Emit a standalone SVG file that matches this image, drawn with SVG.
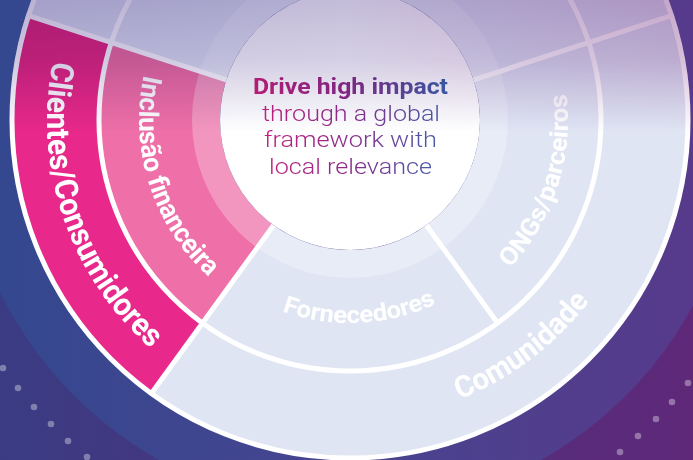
<svg xmlns="http://www.w3.org/2000/svg" width="693" height="460" viewBox="0 0 693 460">
<style>
.lbl{font-family:Roboto,"Open Sans","DejaVu Sans",sans-serif;font-weight:700;fill:#ffffff}
.ctr{font-family:Roboto,"Open Sans","DejaVu Sans",sans-serif;fill:url(#tg)}
.pink{fill:#e8288a}
.pinkl{fill:#ef6fa8}
.lav{fill:#e0e5f4}
.sep{fill:none;stroke:#ffffff;stroke-width:5}
.dot{fill:#ffffff;fill-opacity:0.35}
</style>
<defs>
<linearGradient id="bgOut" gradientUnits="userSpaceOnUse" x1="0" y1="0" x2="693" y2="0">
<stop offset="0" stop-color="#3a3c83"/><stop offset="1" stop-color="#5f2879"/>
</linearGradient>
<linearGradient id="bgBand" gradientUnits="userSpaceOnUse" x1="0" y1="0" x2="693" y2="0">
<stop offset="0" stop-color="#34488f"/><stop offset="0.5" stop-color="#47448f"/><stop offset="1" stop-color="#573a8b"/>
</linearGradient>
<linearGradient id="tg" gradientUnits="userSpaceOnUse" x1="255" y1="0" x2="448" y2="0">
<stop offset="0" stop-color="#c8207e"/><stop offset="0.5" stop-color="#8a2d8c"/><stop offset="1" stop-color="#3d63ae"/>
</linearGradient>
<linearGradient id="ovc" gradientUnits="userSpaceOnUse" x1="0" y1="0" x2="693" y2="0">
<stop offset="0" stop-color="#bab0d1"/><stop offset="0.5" stop-color="#c3bcd9"/><stop offset="1" stop-color="#c6a5ca"/>
</linearGradient>
<linearGradient id="ovm" gradientUnits="userSpaceOnUse" x1="0" y1="0" x2="0" y2="132">
<stop offset="0" stop-color="#ffffff"/><stop offset="0.46" stop-color="#b3b3b3"/><stop offset="1" stop-color="#000000"/>
</linearGradient>
<mask id="ovmask" maskUnits="userSpaceOnUse" x="0" y="0" width="693" height="460">
<rect x="0" y="0" width="693" height="140" fill="url(#ovm)"/>
</mask>
<path id="pCli" d="M52.77,61.15 A303,303 0 0 0 297.38,418.40"/>
<path id="pInc" d="M143.84,75.05 A211,211 0 0 0 277.83,318.27"/>
<path id="pOng" d="M509.95,268.12 A218,218 0 0 0 554.85,45.44"/>
<path id="pFor" d="M282.24,311.36 A203,203 0 0 0 505.51,250.49"/>
<path id="pCom" d="M459.46,399.32 A300,300 0 0 0 631.91,222.61"/>
</defs>

<rect x="0" y="0" width="693" height="460" fill="url(#bgOut)"/>
<circle cx="350" cy="120" r="390" fill="url(#bgBand)"/>

<g id="dots">
<circle class="dot" cx="3" cy="368" r="3.3"/><circle class="dot" cx="18" cy="388" r="3.3"/><circle class="dot" cx="34" cy="407" r="3.3"/><circle class="dot" cx="51" cy="424" r="3.3"/><circle class="dot" cx="68" cy="441" r="3.3"/><circle class="dot" cx="87" cy="457" r="3.3"/>
<circle class="dot" cx="688" cy="383" r="3.3"/><circle class="dot" cx="672" cy="402" r="3.3"/><circle class="dot" cx="656" cy="419" r="3.3"/><circle class="dot" cx="638" cy="436" r="3.3"/><circle class="dot" cx="620" cy="452" r="3.3"/>
</g>

<g id="top-outer"><path class="lav" d="M28.54,15.55 A338,338 0 0 1 671.46,15.55 L588.72,42.44 A251,251 0 0 0 111.28,42.44 Z"/></g>
<g id="top-inner"><path class="lav" d="M111.28,42.44 A251,251 0 0 1 588.72,42.44 L473.64,79.83 A130,130 0 0 0 226.36,79.83 Z"/></g>

<g id="clientes">
<path class="pink" d="M151.33,393.45 A338,338 0 0 1 28.54,15.55 L111.28,42.44 A251,251 0 0 0 202.46,323.06 Z"/>
<text class="lbl" font-size="32"><textPath href="#pCli" textLength="318" lengthAdjust="spacingAndGlyphs">Clientes/Consumidores</textPath></text>
</g>
<g id="comunidade">
<path class="lav" d="M671.46,15.55 A338,338 0 0 1 151.33,393.45 L202.46,323.06 A251,251 0 0 0 588.72,42.44 Z"/>
<text class="lbl" font-size="30"><textPath href="#pCom" textLength="165" lengthAdjust="spacingAndGlyphs">Comunidade</textPath></text>
</g>
<g id="inclusao">
<path class="pinkl" d="M202.46,323.06 A251,251 0 0 1 111.28,42.44 L226.36,79.83 A130,130 0 0 0 273.59,225.17 Z"/>
<text class="lbl" font-size="27"><textPath href="#pInc" textLength="222" lengthAdjust="spacingAndGlyphs">Inclusão financeira</textPath></text>
</g>
<g id="ongs">
<path class="lav" d="M588.72,42.44 A251,251 0 0 1 497.54,323.06 L426.41,225.17 A130,130 0 0 0 473.64,79.83 Z"/>
<text class="lbl" font-size="25"><textPath href="#pOng" textLength="189" lengthAdjust="spacingAndGlyphs">ONGs/parceiros</textPath></text>
</g>
<g id="fornecedores">
<path class="lav" d="M497.54,323.06 A251,251 0 0 1 202.46,323.06 L273.59,225.17 A130,130 0 0 0 426.41,225.17 Z"/>
<text class="lbl" font-size="24"><textPath href="#pFor" textLength="158" lengthAdjust="spacingAndGlyphs">Fornecedores</textPath></text>
</g>

<circle cx="350" cy="120" r="144" fill="none" stroke="#ffffff" stroke-width="28" stroke-opacity="0.27"/>

<g id="center">
<circle cx="350" cy="120" r="130" fill="#ffffff"/>
<text class="ctr" x="350.5" y="93.5" font-size="22.5" font-weight="700" text-anchor="middle" textLength="195" lengthAdjust="spacingAndGlyphs">Drive high impact</text>
<text class="ctr" x="351" y="120.5" font-size="22.5" font-weight="300" text-anchor="middle" textLength="178" lengthAdjust="spacingAndGlyphs">through a global</text>
<text class="ctr" x="350.5" y="147.3" font-size="22.5" font-weight="300" text-anchor="middle" textLength="173" lengthAdjust="spacingAndGlyphs">framework with</text>
<text class="ctr" x="350.5" y="174" font-size="22.5" font-weight="300" text-anchor="middle" textLength="163" lengthAdjust="spacingAndGlyphs">local relevance</text>
</g>

<g id="connectors">
<circle class="sep" cx="350" cy="120" r="338"/>
<circle class="sep" cx="350" cy="120" r="251"/>
<path class="sep" d="M273.59,225.17 L151.33,393.45"/>
<path class="sep" d="M226.36,79.83 L28.54,15.55"/>
<path class="sep" d="M473.64,79.83 L671.46,15.55"/>
<path class="sep" d="M426.41,225.17 L497.54,323.06"/>
</g>

<circle cx="350" cy="120" r="340.5" fill="url(#ovc)" mask="url(#ovmask)" style="mix-blend-mode:multiply"/>
</svg>
